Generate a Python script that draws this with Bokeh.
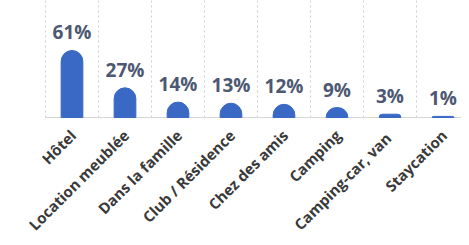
import math
import numpy as np
from bokeh.plotting import figure
from bokeh.models import ColumnDataSource, Range1d, LabelSet
from bokeh.core.properties import value
from bokeh.embed import file_html
from bokeh.resources import INLINE

categories = ["Hôtel", "Location meublée", "Dans la famille", "Club / Résidence",
              "Chez des amis", "Camping", "Camping-car,  van", "Staycation"]
values = [61, 27, 14, 13, 12, 9, 3, 1]
labels = [f"{v}%" for v in values]

n = len(categories)
xs = list(np.arange(n) + 0.5)
src = ColumnDataSource(dict(x=xs, top=values, label=labels,
                            base=[0] * n, cat=categories))

W, H = 461, 237
left_px, base_px, band_px = 45, 117, 53
y_top = 106.5
px_per_unit = base_px / y_top

p = figure(width=W, height=H, output_backend="svg", toolbar_location=None,
           x_range=Range1d(-left_px / band_px, (W - left_px) / band_px),
           y_range=Range1d(-(H - base_px) / px_per_unit, y_top),
           min_border=0)
p.outline_line_color = None
p.background_fill_color = "white"
p.axis.visible = False
p.grid.visible = False

# dotted vertical separators between categories
edges = list(range(n + 1))
p.segment(x0=edges, y0=[0] * len(edges), x1=edges, y1=[y_top] * len(edges),
          line_color="#cfcfcf", line_dash="2 3", line_width=1)
# baseline
p.segment(x0=[0], y0=[0], x1=[n], y1=[0], line_color="#d6d6d6", line_width=1)

p.vbar(x="x", top="top", width=0.41, source=src, color="#3a69c5",
       border_radius=(11, 11, 0, 0))

lbl = LabelSet(x="x", y="top", text="label", source=src, text_align="center",
               text_baseline="bottom", y_offset=5, text_font=value("Open Sans"),
               text_font_size="19px", text_font_style="bold", text_color="#4d5872")
p.add_layout(lbl)

cat_lbl = LabelSet(x="x", y="base", text="cat", source=src, text_align="right",
                   text_baseline="middle", angle=math.pi / 4, x_offset=1, y_offset=-15,
                   text_font=value("Open Sans"), text_font_size="15px",
                   text_font_style="bold", text_color="#3a3a3a")
p.add_layout(cat_lbl)

open("out.html", "w").write(file_html(p, INLINE))
